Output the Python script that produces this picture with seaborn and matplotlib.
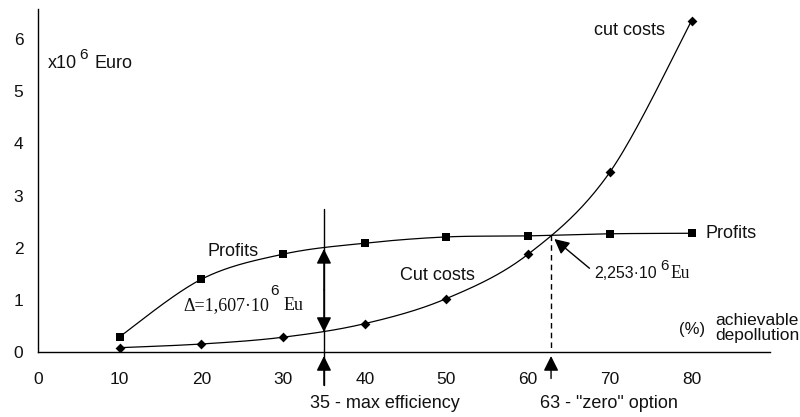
import numpy as np
import pandas as pd
import matplotlib
matplotlib.use("Agg")
import matplotlib.pyplot as plt
import seaborn as sns

# ==========================================
# Data
# ==========================================
depollution = [10, 20, 30, 40, 50, 60, 70, 80]
profits = [0.30, 1.40, 1.88, 2.09, 2.21, 2.23, 2.27, 2.28]
cut_costs = [0.09, 0.16, 0.29, 0.55, 1.03, 1.88, 3.45, 6.35]

x_ticks = [0, 10, 20, 30, 40, 50, 60, 70, 80]
y_ticks = [0, 1, 2, 3, 4, 5, 6]

max_eff_x = 35
zero_x = 62.8
zero_y = 2.253

SANS = ["Liberation Sans", "DejaVu Sans"]
SERIF = ["Liberation Serif", "DejaVu Serif"]


def smooth_curve(xs, ys, steps=40):
    """Bezier segments with Catmull-Rom style control points (spreadsheet 'smoothed line')."""
    xs = np.asarray(xs, float)
    ys = np.asarray(ys, float)
    n = len(xs)
    out_x, out_y = [], []
    t = np.linspace(0, 1, steps)
    for i in range(n - 1):
        i0, i3 = max(i - 1, 0), min(i + 2, n - 1)
        p0 = np.array([xs[i], ys[i]])
        p3 = np.array([xs[i + 1], ys[i + 1]])
        c1 = p0 + (np.array([xs[i + 1] - xs[i0], ys[i + 1] - ys[i0]])) / 6
        c2 = p3 - (np.array([xs[i3] - xs[i], ys[i3] - ys[i]])) / 6
        b = ((1 - t) ** 3)[:, None] * p0 + (3 * (1 - t) ** 2 * t)[:, None] * c1 \
            + (3 * (1 - t) * t ** 2)[:, None] * c2 + (t ** 3)[:, None] * p3
        out_x.extend(b[:, 0])
        out_y.extend(b[:, 1])
    return out_x, out_y


def chain_text(ax, x, y, pieces, size=13):
    """pieces: list of (text, family, gap_pts, rise_pts, scale) laid out left to right"""
    prev = None
    for s, fam, gap, rise, scale in pieces:
        if prev is None:
            prev = ax.text(x, y, s, family=fam, fontsize=size * scale, color="#111111",
                           va="baseline", ha="left")
        else:
            prev = ax.annotate(s, xy=(1, y), xycoords=(prev, "data"), xytext=(gap, rise),
                               textcoords="offset points", family=fam,
                               fontsize=size * scale, color="#111111",
                               va="baseline", ha="left", annotation_clip=False)
    return prev


sns.set_theme(style="white")
plt.rcParams["font.family"] = SANS

df = pd.DataFrame({
    "depollution": depollution * 2,
    "value": profits + cut_costs,
    "series": ["Profits"] * len(profits) + ["Cut costs"] * len(cut_costs),
})

fig = plt.figure(figsize=(8, 4.17), dpi=100)
ax = fig.add_axes([0.0475, 0.155, 0.915, 0.823])

# smoothed lines
for name in ["Profits", "Cut costs"]:
    sub = df[df["series"] == name]
    sx, sy = smooth_curve(sub["depollution"], sub["value"])
    ax.plot(sx, sy, color="black", lw=0.9, zorder=2)

sns.scatterplot(data=df[df["series"] == "Profits"], x="depollution", y="value",
                marker="s", s=36, color="black", edgecolor="black", linewidth=0,
                legend=False, ax=ax, zorder=3)
sns.scatterplot(data=df[df["series"] == "Cut costs"], x="depollution", y="value",
                marker="D", s=25, color="black", edgecolor="black", linewidth=0,
                legend=False, ax=ax, zorder=3)

ax.set_xlim(0, 89.6)
ax.set_ylim(0, 6.57)
ax.set_xticks(x_ticks)
ax.set_yticks(y_ticks)
ax.set_xlabel("")
ax.set_ylabel("")
for side in ["top", "right"]:
    ax.spines[side].set_visible(False)
for side in ["left", "bottom"]:
    ax.spines[side].set_color("black")
    ax.spines[side].set_linewidth(1)
ax.tick_params(axis="both", direction="out", length=4, width=1, color="black",
               labelsize=12.5, labelcolor="#111111")
ax.tick_params(axis="x", pad=10)
ax.tick_params(axis="y", pad=6.5)

arrow = dict(arrowstyle="-|>,head_length=0.6,head_width=0.3", color="black",
             lw=1, mutation_scale=15, shrinkA=0, shrinkB=0)

# max efficiency marker at 35
ax.plot([max_eff_x, max_eff_x], [2.74, -0.63], color="black", lw=1, clip_on=False)
ax.annotate("", xy=(max_eff_x, 1.98), xytext=(max_eff_x, 1.2), arrowprops=arrow,
            annotation_clip=False)
ax.annotate("", xy=(max_eff_x, 0.39), xytext=(max_eff_x, 1.2), arrowprops=arrow,
            annotation_clip=False)
ax.annotate("", xy=(max_eff_x, -0.07), xytext=(max_eff_x, -0.63), arrowprops=arrow,
            annotation_clip=False)

# zero option marker at 63
ax.plot([zero_x, zero_x], [zero_y, 0], color="black", lw=1, ls=(0, (4, 3)))
ax.annotate("", xy=(zero_x, -0.07), xytext=(zero_x, -0.5), arrowprops=arrow,
            annotation_clip=False)
ax.annotate("", xy=(63.2, 2.17), xytext=(67.5, 1.61), arrowprops=arrow,
            annotation_clip=False)

txt = dict(fontsize=13, color="#111111", va="center", ha="left")
chain_text(ax, 1.2, 5.45, [("x10", SANS, 0, 0, 1), ("6", SANS, 1.5, 6, 0.85),
                           ("Euro", SANS, 5, 0, 1)])
ax.text(68.1, 6.16, "cut costs", **txt)
ax.text(20.7, 1.94, "Profits", **txt)
ax.text(81.7, 2.28, "Profits", clip_on=False, **txt)
ax.text(44.3, 1.48, "Cut costs", **txt)
chain_text(ax, 17.8, 0.81, [("\u0394=1,607\u00b710", SERIF, 0, 0, 1), ("6", SANS, 0.7, 11, 0.85),
                            ("Eu", SERIF, 3.5, 0, 1)])
chain_text(ax, 68.1, 1.42, [("2,253\u00b710", SANS, 0, 0, 1), ("6", SANS, 2.5, 6, 0.95),
                            ("Eu", SERIF, 1, 0, 1.1)], size=11.5)
ax.text(78.4, 0.43, "(%)", fontsize=12, color="#111111", va="center", ha="left")
ax.text(82.9, 0.47, "achievable\ndepollution", fontsize=12.5, color="#111111",
        va="center", ha="left", linespacing=0.95, clip_on=False)
ax.text(33.3, -0.97, "35 - max efficiency", clip_on=False, **txt)
ax.text(61.5, -0.97, "63 - \"zero\" option", clip_on=False, **txt)

fig.savefig("out.png", dpi=100)
